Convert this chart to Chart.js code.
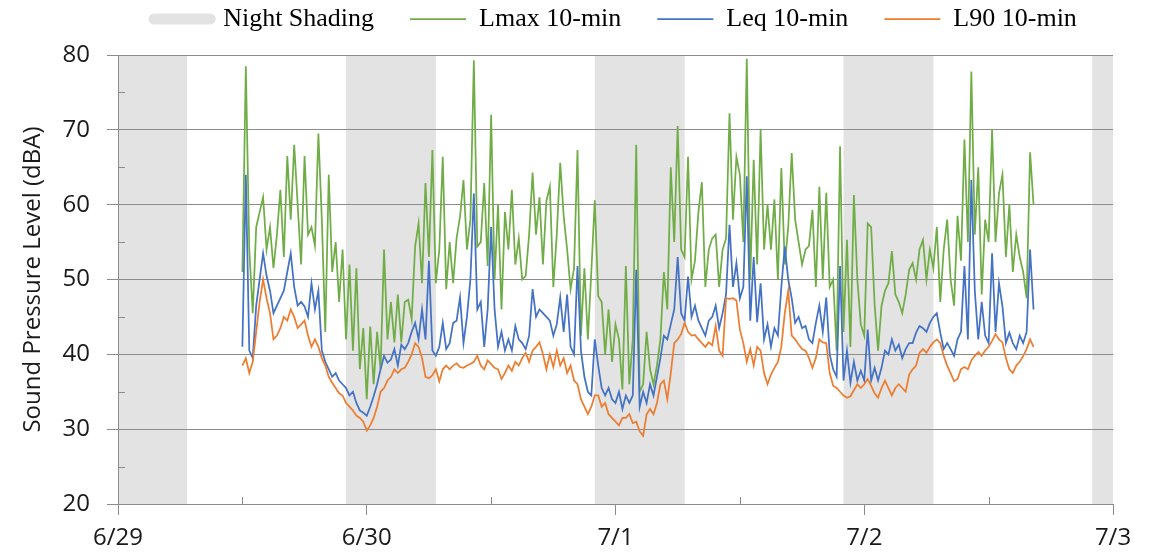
<!DOCTYPE html>
<html>
<head>
<meta charset="utf-8">
<script src="https://cdn.jsdelivr.net/npm/chart.js@4.4.1/dist/chart.umd.min.js"></script>
<style>
    html, body { margin: 0; padding: 0; background: #ffffff; }
</style>
</head>
<body>
<canvas id="noiseChart" width="1152" height="556"></canvas>
<script>
// Values read every 20 minutes, starting 6/29 12:00 (hours counted from 6/29 00:00)
const startHour = 12;
const stepHours = 1 / 3;

const dayLabels = ['6/29', '6/30', '7/1', '7/2', '7/3'];
const xMinorTicks = [12, 36, 60, 84];
const yMinorTicks = [25, 35, 45, 55, 65, 75];

// Night periods, in hours from 6/29 00:00
const nightStart = [-2, 22, 46, 70, 94];
const nightEnd = [6.67, 30.67, 54.67, 78.67, 102.67];

const lmax = [
    51, 78.5, 54, 45.5, 57, 59, 61, 54, 57, 51.5, 56, 62,
    53, 66.5, 58, 68, 60, 52, 66.5, 56, 57, 54.5, 69.5, 58,
    43, 64, 51, 55, 47, 54, 42, 52, 40.5, 51.5, 38, 43.5,
    34, 43.7, 36, 43, 38, 54, 42, 47, 41.6, 48, 41.6, 47,
    47.3, 44.7, 54.4, 57.5, 49.5, 62.9, 53, 67.3, 49.5, 54, 66.4, 48.7,
    55, 49.5, 55.5, 58.4, 63.3, 54, 58, 79.3, 54.4, 55, 62.9, 51.8,
    72, 50, 60, 46, 59, 54, 62, 52, 55.5, 50, 50.5, 56,
    64.3, 56, 61, 52, 60.5, 62.4, 49, 56, 65.6, 58.5, 54, 48.7,
    51.5, 67.3, 42.5, 51.5, 42, 51, 60.6, 47.8, 47, 40, 46, 39,
    44, 42, 35.3, 51.8, 36, 42, 68, 35, 36, 43, 38, 36,
    38.5, 42, 51, 46, 65, 55, 70.5, 54, 53, 66.4, 50, 52.5,
    59, 63, 49, 54, 55.5, 56, 49, 54, 55.5, 72.2, 58, 66.4,
    64, 55, 79.5, 50, 66, 52, 70, 54, 60, 54, 60.7, 50,
    64.9, 52, 57, 66.9, 58, 55, 52, 54, 54.5, 59.3, 49, 62.4,
    50, 61.6, 49, 50, 40.5, 67.8, 43, 55.3, 41, 61.3, 50, 44,
    42.5, 57.5, 57, 46.7, 40.5, 46.5, 48.5, 49.5, 53.8, 48, 47, 45.5,
    48, 51.3, 52.2, 50, 54, 55.3, 50, 54, 51.5, 57, 47, 54,
    58, 50, 46.5, 58.5, 52.5, 68.7, 55, 77.8, 56, 65, 48, 58,
    55, 70, 55, 61.5, 64, 53, 60, 51, 56, 53, 51, 47.5, 67, 60
];

const leq = [
    41, 64, 40.5, 39.5, 46.5, 50, 53.5, 50.5, 48.5, 45.5, 46.5, 47.5,
    48.5, 51, 53.5, 49, 46.5, 47, 46.4, 45, 49.5, 46, 48.5, 40.5,
    39, 38, 37, 37.5, 36.5, 36, 35.5, 34.5, 35, 33.5, 32.5, 32.2,
    31.8, 33, 34.4, 36, 38, 39.8, 38.9, 39.3, 40.7, 38.5, 41.3, 40.7,
    41.5, 43, 44.2, 42, 46, 42, 52.5, 40.5, 39.8, 41, 44.2, 40.7,
    41.5, 44.2, 44.5, 47.6, 41.5, 45, 50, 61.5, 46, 47, 41, 46,
    57, 46, 41, 43, 40.5, 42, 40.5, 43.8, 42, 41.5, 40.7, 42.5,
    48.7, 45, 46, 45.5, 45, 44.5, 42.5, 44, 47.6, 43, 48, 41,
    40, 51.8, 40.5, 37, 35, 34.5, 42, 38.5, 35.5, 34.5, 35.5, 34,
    33.5, 35, 32.7, 34.5, 33.5, 34.5, 51.3, 33, 35, 33.5, 36, 34.5,
    37, 39.5, 42.5, 42, 44, 46, 53, 45.5, 44.5, 50.4, 45, 46.5,
    44.5, 43.5, 42.5, 44.5, 45, 46.5, 43.5, 45.5, 48, 57.3, 49, 52.2,
    47.5, 49, 63.8, 44.5, 53, 44.3, 49.5, 42, 44, 41, 43.5, 42.5,
    49, 54.4, 50, 47.5, 44.2, 45, 43.5, 43.8, 42, 41.5, 44.2, 46.5,
    43, 47.6, 40, 38, 37, 51.8, 36.5, 40.5, 36.2, 39, 36.5, 37.8,
    36.5, 43.3, 36.5, 38.2, 36.5, 38.2, 40.5, 40, 42, 40.5, 41.3, 39.5,
    40.7, 41.5, 41.5, 42.9, 43.8, 43.5, 43, 44.2, 45, 45.5, 42.9, 40.7,
    41.5, 40.7, 39.8, 42, 43, 51.8, 42, 63.3, 48.5, 42, 47, 42.5,
    41.5, 53.5, 43, 49.5, 46.4, 41.5, 42.9, 41.5, 40.7, 42.5, 41.5, 43, 54, 46
];

const l90 = [
    38.5, 39.5, 37.5, 39, 43, 47, 50, 47.5, 45.5, 42, 42.5, 43.5,
    45, 44.5, 46, 45, 43.5, 44, 44.5, 42.5, 41, 42, 41, 39.5,
    38.5, 37, 36.2, 35.5, 34.8, 34.5, 33.5, 33, 32.5, 31.8, 31.5, 31,
    29.8, 30.5, 31.5, 33, 35, 35.5, 36.5, 37, 38, 37.5, 38, 38.2,
    39, 40, 41.5, 41, 39.5, 37, 36.8, 37.2, 38, 36.4, 38, 38.5,
    38, 38.5, 38.8, 38.3, 38.2, 38.5, 38.7, 39, 39.8, 38.5, 38, 39.2,
    38.7, 38.2, 38, 36.7, 37.5, 38.5, 37.8, 39, 38.5, 39.5, 40.2, 39,
    40.5, 41, 41.6, 40, 38, 40, 38.3, 40.5, 38.5, 39.5, 37.5, 38.5,
    36.5, 36, 34, 33, 32, 33, 34.5, 34.5, 33, 33.5, 32, 31.5,
    31, 30.5, 31.5, 31.5, 32, 30.8, 31, 29.7, 29.1, 32, 32.7, 32,
    33.5, 36, 36.5, 34, 37.5, 41.5, 42, 42.7, 44.2, 43, 42.5, 42.6,
    42, 41.5, 41, 41.6, 41.2, 43.8, 40.5, 39.8, 47.5, 47.4, 47.5, 47.2,
    43.3, 41.5, 39, 40.7, 38.5, 41, 40.5, 37.5, 36, 37.3, 38.2, 39,
    41, 45.5, 48.5, 42.5, 42, 41.3, 40.7, 40.5, 39.5, 38.2, 39.5, 42,
    41.6, 41.5, 37.5, 35.8, 35.5, 35, 34.5, 34.2, 34.4, 35.2, 36, 35.5,
    36, 36.7, 35.8, 34.8, 34.2, 35.5, 36.5, 35.5, 34.5, 35.5, 36, 35.5,
    35, 37.3, 38, 38.5, 40.2, 40.7, 40.2, 41, 41.6, 42, 41.5, 39.8,
    38.5, 37.5, 36.4, 36.7, 38, 38.3, 38, 39.2, 39.8, 40.3, 39.8, 40.5,
    41, 41.8, 42.7, 42, 41.6, 39.5, 38, 37.5, 38.5, 39, 39.8, 40.7, 42, 41
];

const gridColor = '#8c8c8c';
const shadeColor = '#e3e3e3';
const textColor = '#1a1a1a';

function toPoints(values) {
    return values.map((v, i) => ({ x: startHour + i * stepHours, y: v }));
}

// grey bands for the night hours, drawn under the grid
const nightShading = {
    id: 'nightShading',
    beforeDraw(chart) {
        const { ctx, chartArea: area, scales: { x } } = chart;
        ctx.save();
        ctx.fillStyle = shadeColor;
        nightStart.forEach((start, i) => {
            const x0 = Math.max(x.getPixelForValue(start), area.left);
            const x1 = Math.min(x.getPixelForValue(nightEnd[i]), area.right);
            if (x1 > x0) ctx.fillRect(x0, area.top, x1 - x0, area.bottom - area.top);
        });
        ctx.restore();
    }
};

// small inside ticks at 12:00 and at the 5 dBA steps
const minorTicks = {
    id: 'minorTicks',
    afterDraw(chart) {
        const { ctx, chartArea: area, scales: { x, y } } = chart;
        ctx.save();
        ctx.strokeStyle = gridColor;
        ctx.lineWidth = 1;
        ctx.beginPath();
        xMinorTicks.forEach(h => {
            const px = Math.round(x.getPixelForValue(h)) + 0.5;
            ctx.moveTo(px, area.bottom);
            ctx.lineTo(px, area.bottom - 7);
        });
        yMinorTicks.forEach(v => {
            const py = Math.round(y.getPixelForValue(v)) + 0.5;
            ctx.moveTo(area.left, py);
            ctx.lineTo(area.left + 7, py);
        });
        ctx.stroke();
        ctx.restore();
    }
};

const ctx = document.getElementById('noiseChart').getContext('2d');
new Chart(ctx, {
    type: 'line',
    data: {
        datasets: [
            {
                label: 'Night Shading',
                data: [],
                borderColor: shadeColor,
                backgroundColor: shadeColor,
                borderWidth: 11,
                pointBorderColor: shadeColor,
                pointBorderWidth: 11
            },
            {
                label: 'Lmax 10-min',
                data: toPoints(lmax),
                borderColor: '#70ad47',
                pointBorderColor: '#70ad47',
                borderWidth: 1.75,
                pointBorderWidth: 1.75,
                order: 3
            },
            {
                label: 'Leq 10-min',
                data: toPoints(leq),
                borderColor: '#4472c4',
                pointBorderColor: '#4472c4',
                borderWidth: 1.75,
                pointBorderWidth: 1.75,
                order: 2
            },
            {
                label: 'L90 10-min',
                data: toPoints(l90),
                borderColor: '#ed7d31',
                pointBorderColor: '#ed7d31',
                borderWidth: 1.75,
                pointBorderWidth: 1.75,
                order: 1
            }
        ]
    },
    options: {
        responsive: false,
        animation: false,
        layout: { padding: { top: -30, right: 39, bottom: 0, left: 0 } },
        elements: {
            point: { radius: 0, hoverRadius: 0 },
            line: { tension: 0 }
        },
        plugins: {
            tooltip: { enabled: false },
            // empty title used only as a gap between legend and plot
            title: {
                display: true,
                text: '',
                weight: 500,
                font: { size: 1, lineHeight: 1 },
                padding: { top: 0, bottom: 12 }
            },
            legend: {
                fullSize: false,
                labels: {
                    usePointStyle: true,
                    pointStyle: 'line',
                    pointStyleWidth: 56,
                    padding: 36,
                    color: '#000000',
                    font: { family: 'Liberation Serif', size: 26 },
                    sort: (a, b) => a.datasetIndex - b.datasetIndex,
                    generateLabels: chart => {
                        const items = Chart.defaults.plugins.legend.labels.generateLabels(chart);
                        items.forEach(item => {
                            if (item.datasetIndex === 0) item.lineCap = 'round';
                        });
                        return items;
                    }
                }
            }
        },
        scales: {
            x: {
                type: 'linear',
                min: 0,
                max: 96,
                ticks: {
                    stepSize: 24,
                    autoSkip: false,
                    maxRotation: 0,
                    padding: 9,
                    color: textColor,
                    font: { family: 'Open Sans', size: 24 },
                    callback: (value, index) => dayLabels[index]
                },
                grid: { drawOnChartArea: false, tickLength: 11, color: gridColor },
                border: { color: gridColor },
                afterFit: scale => { scale.height = 52; }
            },
            y: {
                min: 20,
                max: 80,
                ticks: {
                    stepSize: 10,
                    padding: 17,
                    color: textColor,
                    font: { family: 'Open Sans', size: 24 }
                },
                grid: { color: gridColor, tickLength: 11 },
                border: { color: gridColor },
                title: {
                    display: true,
                    text: 'Sound Pressure Level (dBA)',
                    color: textColor,
                    font: { family: 'Open Sans', size: 24 },
                    padding: { top: 19, bottom: 0 }
                },
                afterFit: scale => { scale.width = 118; }
            }
        }
    },
    plugins: [nightShading, minorTicks]
});
</script>
</body>
</html>
